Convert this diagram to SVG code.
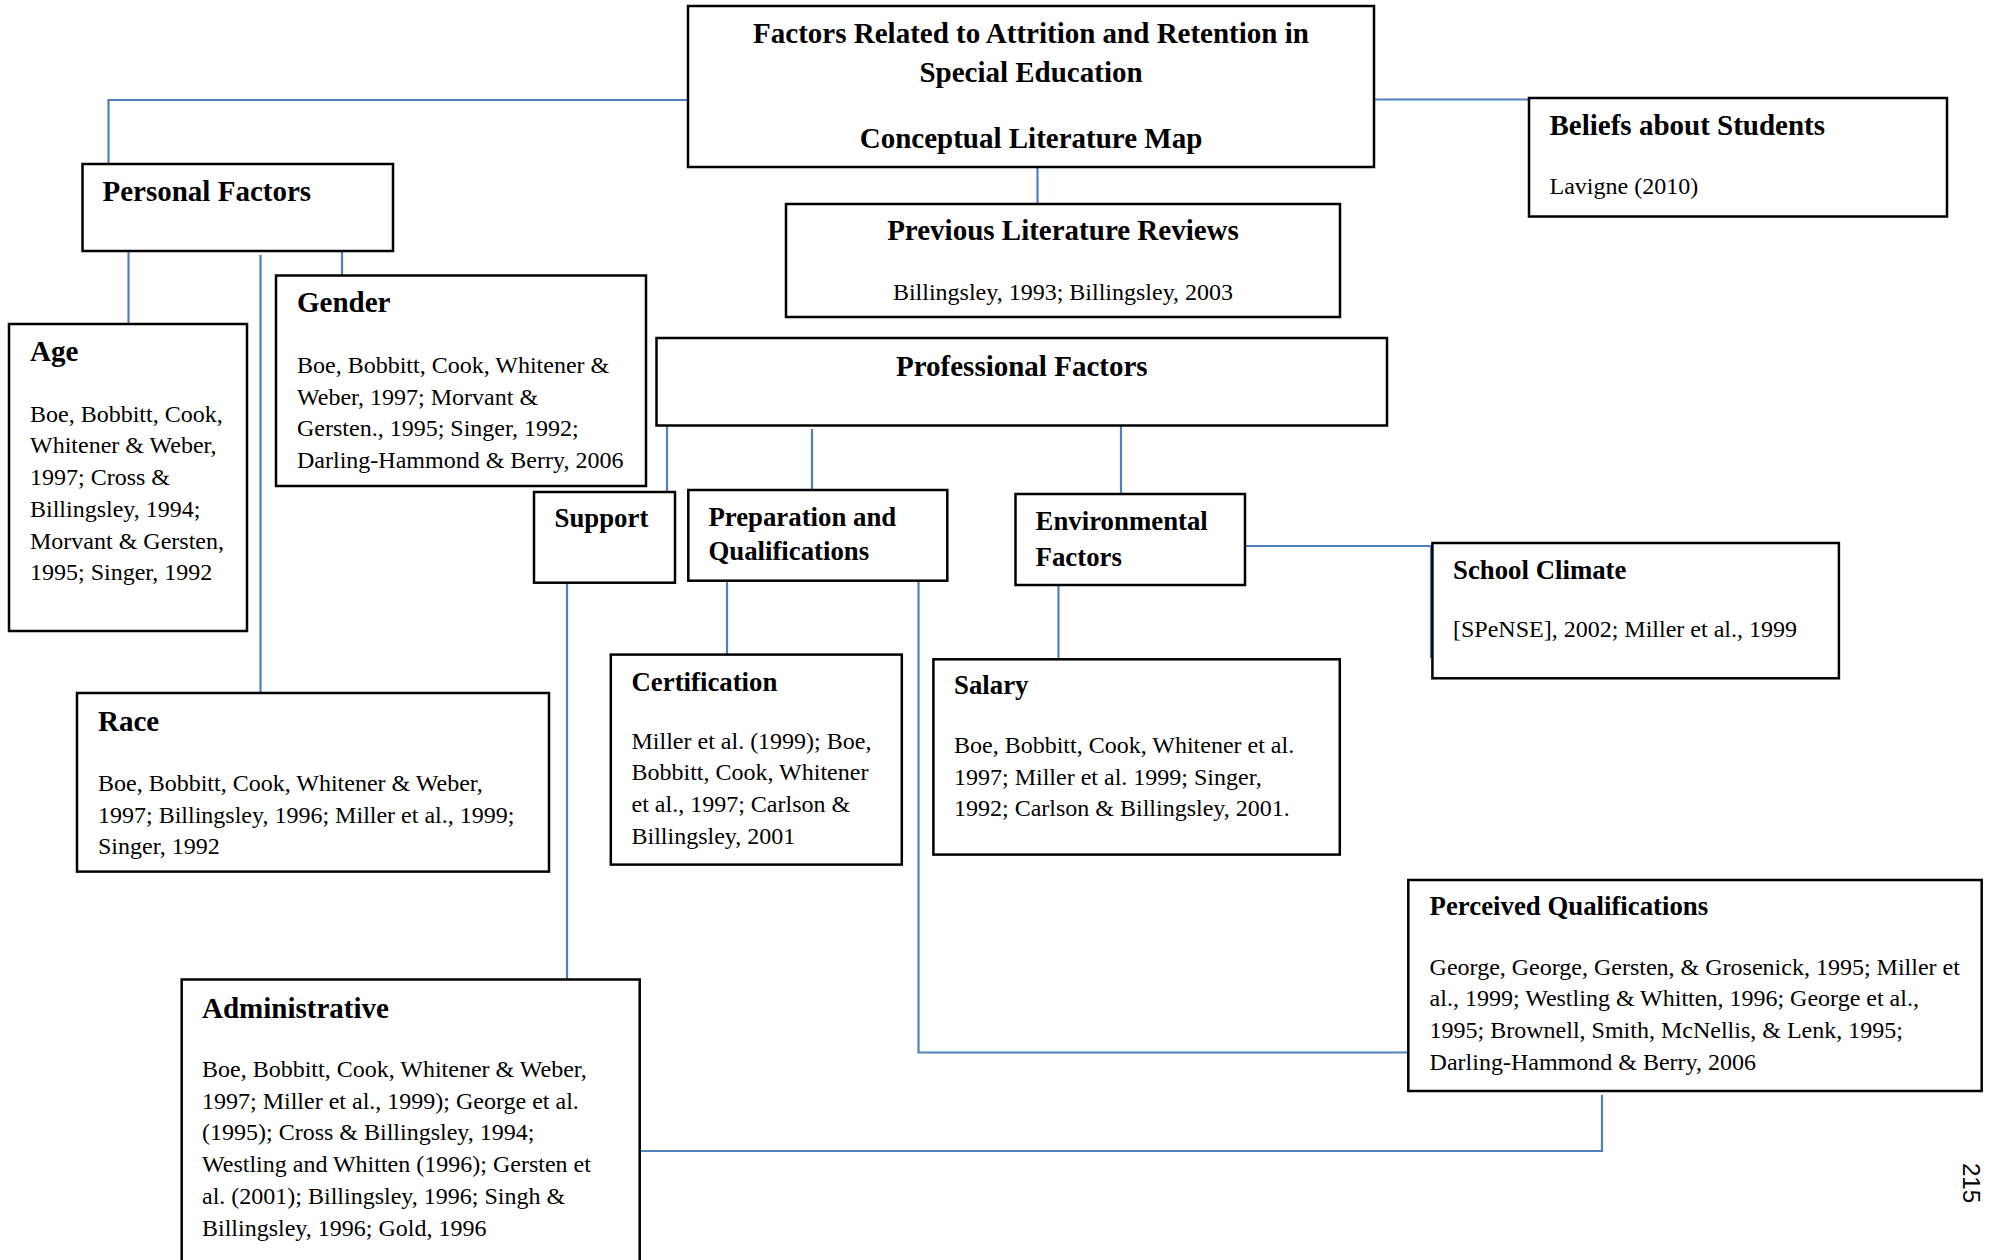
<svg xmlns="http://www.w3.org/2000/svg" width="1991" height="1260" viewBox="0 0 1991 1260">
<style>
.box{fill:#fff;stroke:#000;stroke-width:2.5}
.h{font-family:"Liberation Serif","Times New Roman",serif;font-weight:bold;font-size:29px;fill:#000}
.s{font-size:26.8px}
.b{font-family:"Liberation Serif","Times New Roman",serif;font-size:24px;fill:#000}
.c{text-anchor:middle}
.conn path{fill:none;stroke:#4F81BD;stroke-width:2.2}
.pg{font-family:"Liberation Sans",Arial,sans-serif;font-size:24px;fill:#000}
</style>
<rect width="1991" height="1260" fill="#fff"/>
<g id="connectors" class="conn">
<path d="M688,100 H108.5 V164"/>
<path d="M1374,99.5 H1529"/>
<path d="M1037.5,167 V204"/>
<path d="M128.5,251 V324"/>
<path d="M260.5,255 V693"/>
<path d="M342,251 V278"/>
<path d="M667,425 V492"/>
<path d="M812,429 V490"/>
<path d="M1121,425 V494"/>
<path d="M1245,546 H1431 V658"/>
<path d="M567,583 V979.5"/>
<path d="M727,581 V654.5"/>
<path d="M918.5,582 V1052.5 H1408"/>
<path d="M1058.5,585 V659"/>
<path d="M639.5,1151 H1602 V1095"/>
</g>
<g id="title">
<rect class="box" x="688" y="6" width="686" height="161"/>
<text class="h c" x="1031" y="43">Factors Related to Attrition and Retention in</text>
<text class="h c" x="1031" y="82">Special Education</text>
<text class="h c" x="1031" y="148">Conceptual Literature Map</text>
</g>
<g id="beliefs">
<rect class="box" x="1529" y="98" width="418" height="118.5"/>
<text class="h" x="1549.5" y="135">Beliefs about Students</text>
<text class="b" x="1549.5" y="194">Lavigne (2010)</text>
</g>
<g id="personal">
<rect class="box" x="82.5" y="164" width="310.5" height="87"/>
<text class="h" x="102.5" y="201">Personal Factors</text>
</g>
<g id="previous">
<rect class="box" x="786" y="204" width="554" height="113"/>
<text class="h c" x="1063" y="240">Previous Literature Reviews</text>
<text class="b c" x="1063" y="300">Billingsley, 1993; Billingsley, 2003</text>
</g>
<g id="gender">
<rect class="box" x="276" y="275.5" width="370" height="210.5"/>
<text class="h" x="297" y="312">Gender</text>
<text class="b" x="297" y="373">Boe, Bobbitt, Cook, Whitener &amp;</text>
<text class="b" x="297" y="404.7">Weber, 1997; Morvant &amp;</text>
<text class="b" x="297" y="436.4">Gersten., 1995; Singer, 1992;</text>
<text class="b" x="297" y="468">Darling-Hammond &amp; Berry, 2006</text>
</g>
<g id="age">
<rect class="box" x="9" y="324" width="238" height="307"/>
<text class="h" x="30" y="361">Age</text>
<text class="b" x="30" y="421.7">Boe, Bobbitt, Cook,</text>
<text class="b" x="30" y="453.4">Whitener &amp; Weber,</text>
<text class="b" x="30" y="485.1">1997; Cross &amp;</text>
<text class="b" x="30" y="516.8">Billingsley, 1994;</text>
<text class="b" x="30" y="548.5">Morvant &amp; Gersten,</text>
<text class="b" x="30" y="580.2">1995; Singer, 1992</text>
</g>
<g id="professional">
<rect class="box" x="656.5" y="338" width="730.5" height="87.5"/>
<text class="h c" x="1021.8" y="376">Professional Factors</text>
</g>
<g id="support">
<rect class="box" x="534" y="492" width="141" height="90.7"/>
<text class="h s" x="554.5" y="527">Support</text>
</g>
<g id="preparation">
<rect class="box" x="688.3" y="490" width="259" height="90.7"/>
<text class="h s" x="708.4" y="526">Preparation and</text>
<text class="h s" x="708.4" y="560">Qualifications</text>
</g>
<g id="environmental">
<rect class="box" x="1015.5" y="494" width="229.5" height="91"/>
<text class="h s" x="1035.6" y="530">Environmental</text>
<text class="h s" x="1035.6" y="565.7">Factors</text>
</g>
<g id="school-climate">
<rect class="box" x="1432.4" y="543" width="406.5" height="135.3"/>
<text class="h s" x="1453" y="578.5">School Climate</text>
<text class="b" x="1453" y="636.6">[SPeNSE], 2002; Miller et al., 1999</text>
</g>
<g id="certification">
<rect class="box" x="610.8" y="654.6" width="291" height="210"/>
<text class="h s" x="631.5" y="690.7">Certification</text>
<text class="b" x="631.5" y="748.6">Miller et al. (1999); Boe,</text>
<text class="b" x="631.5" y="780.3">Bobbitt, Cook, Whitener</text>
<text class="b" x="631.5" y="812">et al., 1997; Carlson &amp;</text>
<text class="b" x="631.5" y="843.7">Billingsley, 2001</text>
</g>
<g id="salary">
<rect class="box" x="933.4" y="659.3" width="406.4" height="195.3"/>
<text class="h s" x="954" y="694">Salary</text>
<text class="b" x="954" y="753">Boe, Bobbitt, Cook, Whitener et al.</text>
<text class="b" x="954" y="784.7">1997; Miller et al. 1999; Singer,</text>
<text class="b" x="954" y="816.4">1992; Carlson &amp; Billingsley, 2001.</text>
</g>
<g id="race">
<rect class="box" x="77" y="693" width="472" height="178.6"/>
<text class="h" x="98" y="730.8">Race</text>
<text class="b" x="98" y="791">Boe, Bobbitt, Cook, Whitener &amp; Weber,</text>
<text class="b" x="98" y="822.7">1997; Billingsley, 1996; Miller et al., 1999;</text>
<text class="b" x="98" y="854.4">Singer, 1992</text>
</g>
<g id="perceived">
<rect class="box" x="1408.3" y="880" width="573.4" height="211"/>
<text class="h s" x="1429.6" y="915">Perceived Qualifications</text>
<text class="b" x="1429.6" y="974.5">George, George, Gersten, &amp; Grosenick, 1995; Miller et</text>
<text class="b" x="1429.6" y="1006.2">al., 1999; Westling &amp; Whitten, 1996; George et al.,</text>
<text class="b" x="1429.6" y="1037.9">1995; Brownell, Smith, McNellis, &amp; Lenk, 1995;</text>
<text class="b" x="1429.6" y="1069.6">Darling-Hammond &amp; Berry, 2006</text>
</g>
<g id="administrative">
<rect class="box" x="181.7" y="979.5" width="458" height="300"/>
<text class="h" x="202" y="1017.8">Administrative</text>
<text class="b" x="202" y="1077">Boe, Bobbitt, Cook, Whitener &amp; Weber,</text>
<text class="b" x="202" y="1108.7">1997; Miller et al., 1999); George et al.</text>
<text class="b" x="202" y="1140.4">(1995); Cross &amp; Billingsley, 1994;</text>
<text class="b" x="202" y="1172.1">Westling and Whitten (1996); Gersten et</text>
<text class="b" x="202" y="1203.8">al. (2001); Billingsley, 1996; Singh &amp;</text>
<text class="b" x="202" y="1235.5">Billingsley, 1996; Gold, 1996</text>
</g>
<text class="pg" transform="translate(1963,1163) rotate(90)">215</text>
</svg>
